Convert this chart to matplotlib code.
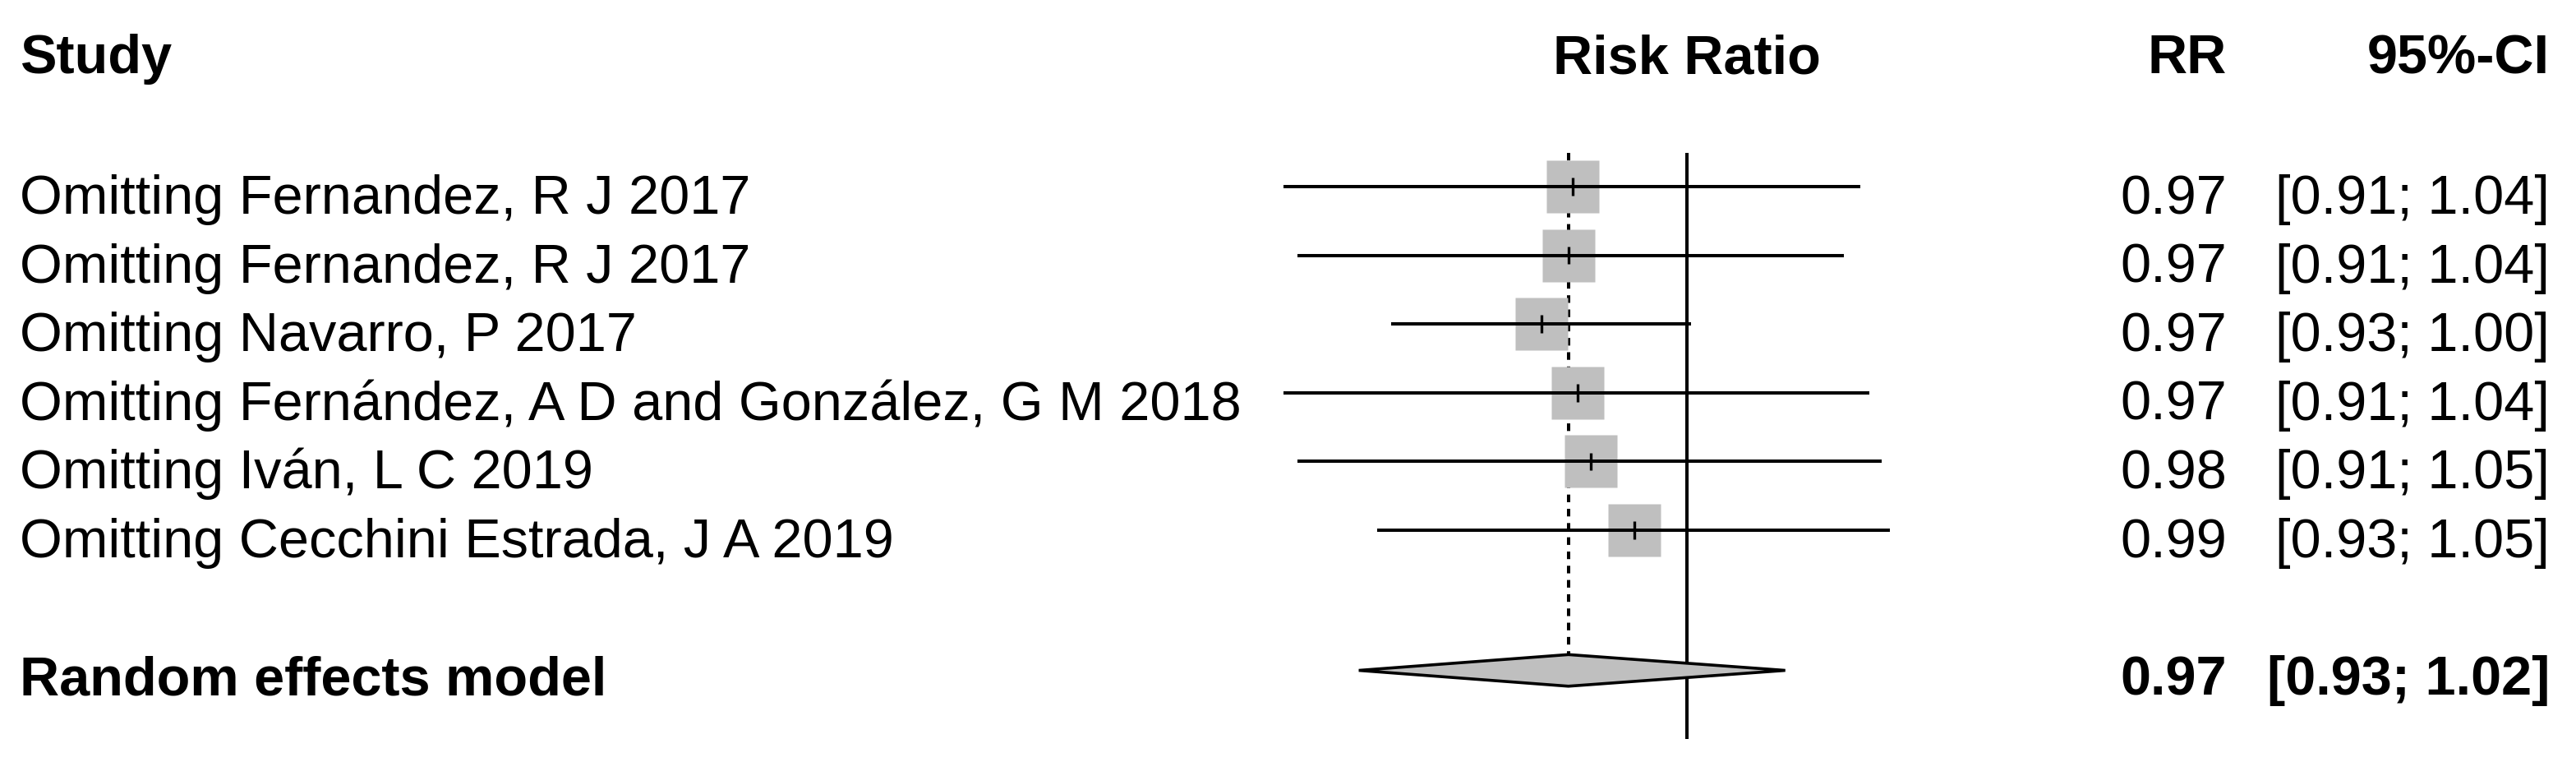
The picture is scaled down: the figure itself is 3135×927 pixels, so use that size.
import matplotlib.pyplot as plt
import matplotlib.transforms as mtransforms
from matplotlib.patches import Polygon

# leave-one-out results
studies = [
    "Omitting Fernandez, R J 2017",
    "Omitting Fernandez, R J 2017",
    "Omitting Navarro, P 2017",
    "Omitting Fernández, A D and González, G M 2018",
    "Omitting Iván, L C 2019",
    "Omitting Cecchini Estrada, J A 2019",
]
rr = [0.974, 0.973, 0.967, 0.975, 0.978, 0.988]
lower = [0.911, 0.914, 0.934, 0.911, 0.914, 0.931]
upper = [1.041, 1.037, 1.001, 1.043, 1.046, 1.048]

pooled_label = "Random effects model"
pooled_rr = 0.973
pooled_lower = 0.927
pooled_upper = 1.023

plt.rcParams['font.family'] = ['Liberation Sans', 'DejaVu Sans']
fs = 48
gray = '#bfbfbf'
lw = 2.9

fig = plt.figure(figsize=(31.35, 9.28), dpi=100)
ax = fig.add_axes([0, 0, 1, 1])
ax.set_xscale('log')
ax.set_xlim(0.6772, 1.2281)
ax.set_ylim(8.373, -2.727)
ax.axis('off')

rows = list(range(len(studies)))
pooled_row = len(studies) + 1.04
trans = mtransforms.blended_transform_factory(ax.transAxes, ax.transData)

# reference lines
ax.vlines(1.0, -0.49, 8.04, color='black', lw=lw, zorder=1)
ax.vlines(pooled_rr, -0.49, pooled_row - 0.22, color='black', lw=lw,
          linestyles=(0, (2.3, 2.0)), zorder=1)

# study boxes, CIs and point ticks
ax.plot(rr, rows, 's', ms=45.4, color=gray, mec='none', zorder=2)
ax.hlines(rows, lower, upper, color='black', lw=lw, zorder=3)
ax.vlines(rr, [r - 0.13 for r in rows], [r + 0.13 for r in rows],
          color='black', lw=2.4, zorder=3)

# pooled diamond
h = 0.23
diamond = Polygon([(pooled_lower, pooled_row), (pooled_rr, pooled_row - h),
                   (pooled_upper, pooled_row), (pooled_rr, pooled_row + h)],
                  closed=True, facecolor=gray, edgecolor='black', lw=2.6, zorder=3)
ax.add_patch(diamond)

# columns
x_study = 24 / 3135
x_rr = 2710 / 3135
x_ci = 3103 / 3135
base = 0.383

hy = -1.66
ax.text(x_study, hy, "Study", transform=trans, fontsize=fs, fontweight='bold', va='baseline')
ax.text(1.0, hy, "Risk Ratio", fontsize=fs, fontweight='bold', ha='center', va='baseline')
ax.text(x_rr, hy, "RR", transform=trans, fontsize=fs, fontweight='bold', ha='right', va='baseline')
ax.text(x_ci, hy, "95%-CI", transform=trans, fontsize=fs, fontweight='bold', ha='right', va='baseline')

for r, name, est, lo, hi in zip(rows, studies, rr, lower, upper):
    y = r + base
    ax.text(x_study, y, name, transform=trans, fontsize=fs, va='baseline')
    ax.text(x_rr, y, f"{est:.2f}", transform=trans, fontsize=fs, ha='right', va='baseline')
    ax.text(x_ci, y, f"[{lo:.2f}; {hi:.2f}]", transform=trans, fontsize=fs, ha='right', va='baseline')

y = len(studies) + 1 + base
ax.text(x_study, y, pooled_label, transform=trans, fontsize=fs, fontweight='bold', va='baseline')
ax.text(x_rr, y, f"{pooled_rr:.2f}", transform=trans, fontsize=fs, fontweight='bold',
        ha='right', va='baseline')
ax.text(x_ci, y, f"[{pooled_lower:.2f}; {pooled_upper:.2f}]", transform=trans, fontsize=fs,
        fontweight='bold', ha='right', va='baseline')

fig.savefig('out.png', dpi=100)
plt.close(fig)
